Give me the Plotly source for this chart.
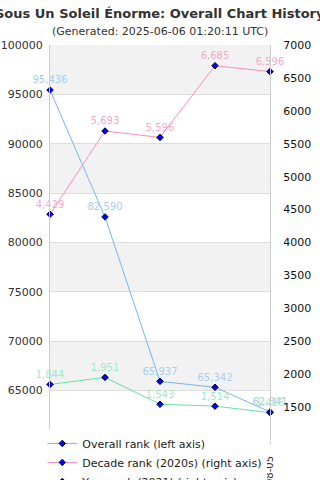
import plotly.graph_objects as go

dates = ["2021-12-31", "2022-03-04", "2022-04-29", "2022-06-24", "2022-08-05"]
overall_rank = [95436, 82590, 65937, 65342, 62841]
decade_rank = [4429, 5693, 5596, 6685, 6596]
year_rank = [1844, 1951, 1543, 1514, 1416]

left_ticks = [65000, 70000, 75000, 80000, 85000, 90000, 95000, 100000]
right_ticks = [1500, 2000, 2500, 3000, 3500, 4000, 4500, 5000, 5500, 6000, 6500, 7000]
band_starts = [65000, 75000, 85000, 95000]

FONT = "DejaVu Sans"

def fmt(v):
    return f"{v:,}"

fig = go.Figure()

series = [
    ("Overall rank (left axis)", overall_rank, "y", "#77b5f7", "#a6cdf5"),
    ("Decade rank (2020s) (right axis)", decade_rank, "y2", "#f48fc0", "#f5aacb"),
    ("Year rank (2021) (right axis)", year_rank, "y2", "#66e0a3", "#9eeac4"),
]

for name, vals, yax, lc, tc in series:
    fig.add_trace(go.Scatter(
        x=dates, y=vals, yaxis=yax, name=name,
        mode="lines+markers+text",
        text=[fmt(v) for v in vals],
        textposition="top center",
        textfont=dict(family=FONT, size=10, color=tc),
        line=dict(color=lc, width=1),
        marker=dict(symbol="diamond", size=5, color="#0000ff",
                    line=dict(color="#000033", width=1)),
        cliponaxis=False,
    ))

shapes = []
for b in band_starts:
    shapes.append(dict(type="rect", xref="paper", yref="y", x0=0, x1=1,
                       y0=b, y1=b + 5000, fillcolor="#f2f2f2",
                       line=dict(width=0), layer="below"))

fig.update_layout(
    width=320, height=480,
    margin=dict(l=50, r=50, t=45, b=40, autoexpand=False),
    paper_bgcolor="white", plot_bgcolor="white",
    font=dict(family=FONT, size=11, color="#333"),
    showlegend=True,
    legend=dict(x=-0.035, y=0.028, xanchor="left", yanchor="top",
                bgcolor="white",
                font=dict(family=FONT, size=11, color="#222"),
                tracegroupgap=0, itemwidth=30),
    shapes=shapes,
    xaxis=dict(type="category", range=[0, 4], showgrid=False, zeroline=False,
               tickangle=-90, ticks="outside", ticklen=3, tickcolor="#ccc",
               ticklabelstandoff=8,
               tickfont=dict(family=FONT, size=10, color="#333"),
               showline=False, automargin=False),
    yaxis=dict(range=[60000, 100000], tickvals=left_ticks,
               ticktext=[str(t) for t in left_ticks],
               showgrid=True, gridcolor="#dddddd", gridwidth=1,
               zeroline=False, showline=True, linecolor="#cccccc",
               automargin=False, ticklabelstandoff=4,
               tickfont=dict(family=FONT, size=11, color="#333")),
    yaxis2=dict(range=[1000, 7000], tickvals=right_ticks,
                ticktext=[str(t) for t in right_ticks],
                overlaying="y", side="right", showgrid=False,
                zeroline=False, showline=True, linecolor="#cccccc",
                automargin=False, ticklabelstandoff=10,
                tickfont=dict(family=FONT, size=11, color="#111")),
    annotations=[
        dict(text="<b>Sous Un Soleil Énorme: Overall Chart History</b>",
             xref="paper", yref="paper", x=0.5, y=1, yshift=32,
             xanchor="center", yanchor="middle", showarrow=False,
             font=dict(family=FONT, size=13, color="#333")),
        dict(text="(Generated: 2025-06-06 01:20:11 UTC)",
             xref="paper", yref="paper", x=0.5, y=1, yshift=14,
             xanchor="center", yanchor="middle", showarrow=False,
             font=dict(family=FONT, size=11, color="#333")),
    ],
)

fig.write_html("out.html")
